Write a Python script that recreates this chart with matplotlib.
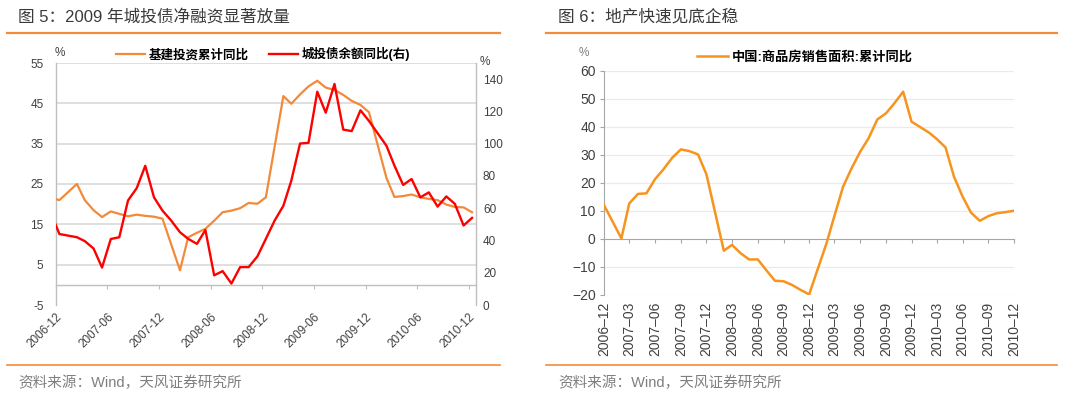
import matplotlib
matplotlib.use('Agg')
import matplotlib.pyplot as plt
from matplotlib.lines import Line2D
import pandas as pd

plt.rcParams['font.family'] = ['Liberation Sans', 'Noto Sans CJK SC']

# ---------------- data ----------------
# Fig 5: infrastructure investment cumulative YoY (%) (no January releases)
infra_months = ['2006-11', '2006-12', '2007-02', '2007-03', '2007-04', '2007-05', '2007-06',
                '2007-07', '2007-08', '2007-09', '2007-10', '2007-11', '2007-12',
                '2008-02', '2008-03', '2008-04', '2008-05', '2008-06', '2008-07', '2008-08',
                '2008-09', '2008-10', '2008-11', '2008-12',
                '2009-02', '2009-03', '2009-04', '2009-05', '2009-06', '2009-07', '2009-08',
                '2009-09', '2009-10', '2009-11', '2009-12',
                '2010-02', '2010-03', '2010-04', '2010-05', '2010-06', '2010-07', '2010-08',
                '2010-09', '2010-10', '2010-11', '2010-12']
infra_yoy = [21.6, 21.0, 25.0, 21.0, 18.5, 16.8, 18.2,
             17.6, 17.0, 17.4, 17.1, 16.9, 16.4,
             3.6, 11.8, 12.9, 13.9, 15.9, 18.0, 18.4,
             19.0, 20.3, 20.1, 21.7,
             46.8, 44.9, 47.2, 49.2, 50.6, 48.9, 48.3,
             47.1, 45.6, 44.6, 42.8,
             26.5, 21.8, 22.0, 22.4, 21.7, 21.3, 21.0,
             19.9, 19.3, 19.2, 18.0]

# Fig 5: LGFV bond balance YoY (%) (right axis), monthly 2006-11 .. 2010-12
bond_months = [str(p) for p in pd.period_range('2006-11', '2010-12', freq='M')]
bond_yoy = [57.0, 44.0, 43.0, 42.0, 39.6, 35.0, 23.2, 40.9, 42.0, 64.8, 72.5, 86.3, 66.7,
            58.5, 52.3, 45.1, 41.0, 37.9, 46.5, 18.4, 21.0, 13.3, 23.5, 23.5, 30.1, 41.0,
            52.3, 61.5, 77.0, 100.1, 100.5, 132.2, 119.2, 137.0, 108.7, 107.8, 120.7, 114.1,
            106.4, 98.7, 86.5, 74.4, 78.1, 66.7, 69.8, 61.0, 67.3, 62.7, 49.3, 54.0]

# Fig 6: commercial housing sales area cumulative YoY (%)
sales_months = ['2006-12', '2007-02', '2007-03', '2007-04', '2007-05', '2007-06', '2007-07',
                '2007-08', '2007-09', '2007-10', '2007-11', '2007-12',
                '2008-02', '2008-03', '2008-04', '2008-05', '2008-06', '2008-07', '2008-08',
                '2008-09', '2008-10', '2008-11', '2008-12',
                '2009-02', '2009-03', '2009-04', '2009-05', '2009-06', '2009-07', '2009-08',
                '2009-09', '2009-10', '2009-11', '2009-12',
                '2010-02', '2010-03', '2010-04', '2010-05', '2010-06', '2010-07', '2010-08',
                '2010-09', '2010-10', '2010-11', '2010-12']
sales_yoy = [12.1, 0.2, 12.7, 16.1, 16.3, 21.4, 24.9,
             29.0, 32.0, 31.4, 30.2, 23.1,
             -4.2, -2.1, -5.1, -7.3, -7.3, -11.1, -14.9,
             -15.1, -16.4, -18.2, -19.8,
             -1.5, 8.2, 18.7, 25.2, 31.2, 36.0, 42.7,
             44.9, 48.5, 52.6, 41.9,
             38.0, 35.7, 32.7, 22.3, 15.1, 9.4, 6.5,
             8.2, 9.2, 9.6, 10.1]

left_ticks = ['2006-12', '2007-06', '2007-12', '2008-06', '2008-12', '2009-06',
              '2009-12', '2010-06', '2010-12']
left_yticks = [-5, 5, 15, 25, 35, 45, 55]
right_yticks = [0, 20, 40, 60, 80, 100, 120, 140]
sales_yticks = [-20, -10, 0, 10, 20, 30, 40, 50, 60]

title_left = '图 5：2009 年城投债净融资显著放量'
title_right = '图 6：地产快速见底企稳'
source = '资料来源：Wind，天风证券研究所'
name_infra = '基建投资累计同比'
name_bond = '城投债余额同比(右)'
name_sales = '中国:商品房销售面积:累计同比'

# ---------------- styling ----------------
W, H = 1080, 396
fx = lambda x: x / W
fy = lambda y: 1 - y / H
ORANGE_L = '#F28A3A'
RED = '#FF0000'
ORANGE_R = '#F7941D'
HEAD = '#F28C38'
TXT = '#404040'
AX = '#bfbfbf'

fig = plt.figure(figsize=(W / 100, H / 100), dpi=100)

# ======== Left chart ========
axL = fig.add_axes([fx(56), fy(305), fx(476) - fx(56), fy(63) - fy(305)])
mid = pd.Timedelta(days=12)
xi = pd.to_datetime(infra_months) + mid
xb = pd.to_datetime(bond_months) + mid
axL.plot(xi, infra_yoy, color=ORANGE_L, lw=1.6, zorder=3)
axL.set_ylim(-5, 55)
axL.set_xlim(pd.Timestamp('2006-12-01'), pd.Timestamp('2010-12-27'))
for v in left_yticks[1:]:
    axL.axhline(v, color='#d9d9d9', lw=1.2, zorder=1)
axL.set_yticks(left_yticks)
axL.set_yticklabels([str(v) for v in left_yticks])
lt = pd.to_datetime(left_ticks)
axL.set_xticks(lt)
axL.set_xticklabels(left_ticks)
axL.spines['top'].set_visible(False)
axL.spines['right'].set_visible(False)
axL.spines['left'].set_color(AX)
axL.spines['left'].set_linewidth(1.0)
axL.spines['bottom'].set_position(('data', 0))
axL.spines['bottom'].set_color(AX)
axL.spines['bottom'].set_linewidth(1.0)
axL.tick_params(axis='y', length=0, labelsize=8.5, labelcolor=TXT, pad=9)
axL.tick_params(axis='x', length=3, color=AX, labelsize=8.5, labelcolor=TXT, pad=16)
for lbl in axL.get_xticklabels():
    lbl.set_rotation(45)
    lbl.set_ha('right')
    lbl.set_va('top')
    lbl.set_rotation_mode('anchor')

ax2 = axL.twinx()
ax2.plot(xb, bond_yoy, color=RED, lw=1.7, zorder=4)
ax2.set_ylim(0, 150)
ax2.set_yticks(right_yticks)
ax2.set_xlim(axL.get_xlim())
for s in ['top', 'left', 'bottom']:
    ax2.spines[s].set_visible(False)
ax2.spines['right'].set_color(AX)
ax2.spines['right'].set_linewidth(1.0)
ax2.tick_params(axis='y', length=0, labelsize=8.5, labelcolor=TXT, pad=5)

fig.text(fx(60), fy(53), '%', ha='center', va='center', fontsize=8.5, color=TXT)
fig.text(fx(485), fy(62), '%', ha='center', va='center', fontsize=8.5, color=TXT)
hL = [Line2D([], [], color=ORANGE_L, lw=1.6), Line2D([], [], color=RED, lw=1.7)]
fig.legend(hL, [name_infra, name_bond], loc='center', bbox_to_anchor=(fx(263), fy(54)),
           ncol=2, frameon=False, prop={'weight': 'bold', 'size': 9}, handlelength=2.3,
           columnspacing=1.6, handletextpad=0.3, borderaxespad=0, borderpad=0)

# ======== Right chart ========
axR = fig.add_axes([fx(604), fy(295), fx(1014) - fx(604), fy(71) - fy(295)])
xs = pd.to_datetime(sales_months)
axR.plot(xs, sales_yoy, color=ORANGE_R, lw=1.8, zorder=3)
axR.set_ylim(-20, 60)
axR.set_xlim(pd.Timestamp('2006-12-01'), pd.Timestamp('2010-12-01'))
axR.set_yticks(sales_yticks)
for v in sales_yticks:
    if v != 0:
        axR.axhline(v, color='#ebebeb', lw=0.9, zorder=1)
rt = pd.date_range('2006-12-01', '2010-12-01', freq='3MS')
axR.set_xticks(rt)
axR.set_xticklabels([d.strftime('%Y') + '\u2013' + d.strftime('%m') for d in rt])
axR.spines['top'].set_visible(False)
axR.spines['right'].set_visible(False)
axR.spines['left'].set_color('#a6a6a6')
axR.spines['bottom'].set_position(('data', 0))
axR.spines['bottom'].set_color('#a6a6a6')
axR.tick_params(axis='y', length=3, color='#a6a6a6', labelsize=10, labelcolor=TXT, pad=3)
axR.tick_params(axis='x', length=3, color='#a6a6a6', labelsize=10, labelcolor=TXT, pad=42)
for lbl in axR.get_xticklabels():
    lbl.set_rotation(90)
    lbl.set_ha('center')
    lbl.set_va('top')

fig.text(fx(584), fy(53), '%', ha='center', va='center', fontsize=8.5, color='#7f7f7f')
hR = [Line2D([], [], color=ORANGE_R, lw=1.8)]
fig.legend(hR, [name_sales], loc='center', bbox_to_anchor=(fx(805), fy(57)),
           ncol=1, frameon=False, prop={'weight': 'bold', 'size': 9.5}, handlelength=2.3,
           handletextpad=0.3, borderaxespad=0, borderpad=0)

# ======== Titles, rules, sources ========
for x0, x1, xt, title in [(7, 500, 18, title_left), (546, 1057, 558, title_right)]:
    fig.text(fx(xt), fy(17), title, ha='left', va='center', fontsize=12, color='#3a3a3a')
    fig.add_artist(Line2D([fx(x0), fx(x1)], [fy(33), fy(33)], color=HEAD, lw=1.6))
    fig.add_artist(Line2D([fx(x0), fx(x1)], [fy(365), fy(365)], color=HEAD, lw=1.2))
    fig.text(fx(xt), fy(383), source, ha='left', va='center', fontsize=10.5, color='#7f7f7f')

fig.savefig('out.png', dpi=100)
